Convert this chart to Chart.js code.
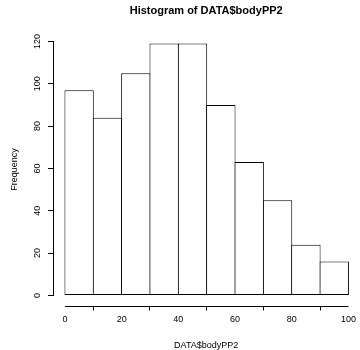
<!DOCTYPE html>
<html>
<head>
<meta charset="utf-8">
<script src="https://cdn.jsdelivr.net/npm/chart.js@4.4.0/dist/chart.umd.min.js"></script>
<style>
html, body { margin: 0; padding: 0; background: #fff; }
#wrap { width: 360px; height: 350px; }
</style>
</head>
<body>
<div id="wrap"><canvas id="myChart"></canvas></div>
<script>
var binEdges = [0, 10, 20, 30, 40, 50, 60, 70, 80, 90, 100];
var counts = [97, 84, 105, 119, 119, 90, 63, 45, 24, 16];
var xTicks = [0, 20, 40, 60, 80, 100];
var yTicks = [0, 20, 40, 60, 80, 100, 120];
var titleText = 'Histogram of DATA$bodyPP2';
var xTitle = 'DATA$bodyPP2';
var yTitle = 'Frequency';

var fontFamily = '"Liberation Sans", Arial, Helvetica, sans-serif';

// bars sit on bin centres, width comes from the bin spacing
var barData = [];
for (var i = 0; i < counts.length; i++) {
	barData.push({ x: (binEdges[i] + binEdges[i + 1]) / 2, y: counts[i] });
}

// R style axes: lines only span first..last tick, y labels turned sideways
var rAxes = {
	id: 'rAxes',
	afterDraw: function(chart) {
		var ctx = chart.ctx;
		var x = chart.scales.x;
		var y = chart.scales.y;
		var area = chart.chartArea;
		ctx.save();
		ctx.strokeStyle = '#000';
		ctx.lineWidth = 1;
		ctx.beginPath();
		var yy = Math.round(area.bottom) + 0.5;
		ctx.moveTo(x.getPixelForValue(xTicks[0]), yy);
		ctx.lineTo(x.getPixelForValue(xTicks[xTicks.length - 1]), yy);
		var xx = Math.round(area.left) - 0.5;
		ctx.moveTo(xx, y.getPixelForValue(yTicks[0]));
		ctx.lineTo(xx, y.getPixelForValue(yTicks[yTicks.length - 1]));
		ctx.stroke();

		ctx.fillStyle = '#000';
		ctx.font = '9px ' + fontFamily;
		ctx.textAlign = 'center';
		ctx.textBaseline = 'middle';
		yTicks.forEach(function(v) {
			ctx.save();
			ctx.translate(area.left - 16, y.getPixelForValue(v));
			ctx.rotate(-Math.PI / 2);
			ctx.fillText(String(v), 0, 0);
			ctx.restore();
		});
		ctx.restore();
	}
};

var chart = new Chart(document.getElementById('myChart'), {
	type: 'bar',
	data: {
		datasets: [{
			data: barData,
			backgroundColor: '#fff',
			borderColor: '#000',
			borderWidth: 1,
			borderSkipped: false,
			barPercentage: 1.035,
			categoryPercentage: 1
		}]
	},
	options: {
		responsive: true,
		maintainAspectRatio: false,
		animation: false,
		devicePixelRatio: 1,
		layout: { padding: 0 },
		plugins: {
			legend: { display: false },
			tooltip: { enabled: false },
			title: {
				display: true,
				text: titleText,
				fullSize: false,
				color: '#000',
				font: { family: fontFamily, size: 11, weight: 'bold', lineHeight: 1.2 },
				padding: { top: 4, bottom: 16.3 }
			}
		},
		scales: {
			x: {
				type: 'linear',
				offset: false,
				min: -3.86,
				max: 103.5,
				afterBuildTicks: function(s) { s.ticks = xTicks.map(function(v) { return { value: v }; }); },
				afterFit: function(s) { s.height = 44.5; },
				grid: { display: true, drawOnChartArea: false, drawTicks: true, tickLength: 5, color: '#000', lineWidth: 1 },
				border: { display: false },
				ticks: { color: '#000', font: { family: fontFamily, size: 9 }, padding: 4, maxRotation: 0, autoSkip: false },
				title: { display: true, text: xTitle, color: '#000', font: { family: fontFamily, size: 9, lineHeight: 1 }, padding: { top: 0, bottom: 0 } }
			},
			y: {
				type: 'linear',
				min: -4.76,
				max: 123.76,
				afterBuildTicks: function(s) { s.ticks = yTicks.map(function(v) { return { value: v }; }); },
				afterFit: function(s) { s.width = 54; },
				grid: { display: true, drawOnChartArea: false, drawTicks: true, tickLength: 6, color: '#000', lineWidth: 1 },
				border: { display: false },
				ticks: { display: false },
				title: { display: true, text: yTitle, color: '#000', font: { family: fontFamily, size: 9, lineHeight: 1.2 }, padding: { top: 9, bottom: 0 } }
			}
		}
	},
	plugins: [rAxes]
});
</script>
</body>
</html>
